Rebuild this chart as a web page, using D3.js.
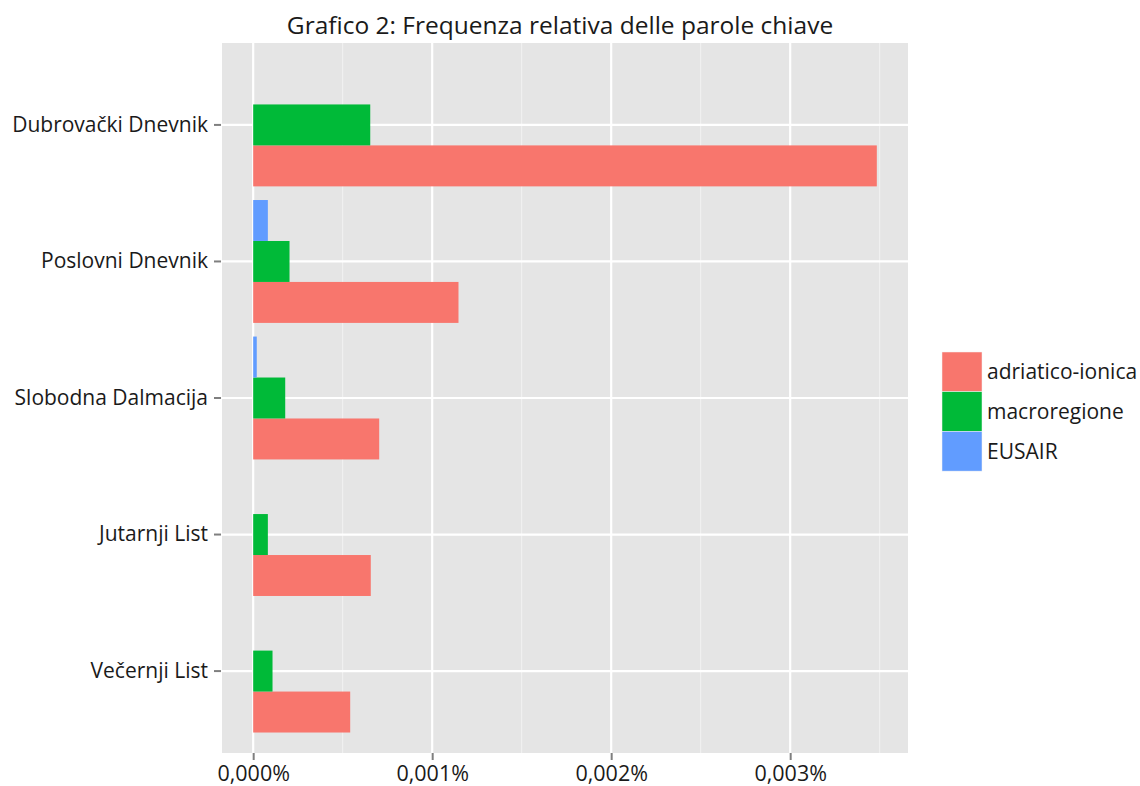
<!DOCTYPE html>
<html>
<head>
<meta charset="utf-8">
<script src="https://cdn.jsdelivr.net/npm/d3@7"></script>
<style>
  body { margin: 0; background: #fff; }
  text { font-family: "Open Sans", "Noto Sans", sans-serif; fill: #1a1a1a; }
</style>
</head>
<body>
<svg id="chart" width="1140" height="786"></svg>
<script>
// ---- data ----
const categories = ["Dubrovački Dnevnik", "Poslovni Dnevnik", "Slobodna Dalmacija", "Jutarnji List", "Večernji List"];
const seriesNames = ["adriatico-ionica", "macroregione", "EUSAIR"];
const adriaticoIonica = [0.003484, 0.001147, 0.000704, 0.000657, 0.000542];
const macroregione   = [0.000654, 0.000203, 0.000179, 0.000082, 0.000108];
const eusair         = [0.000000, 0.000082, 0.000020, 0.000000, 0.000000];
const xTicks = [0, 0.001, 0.002, 0.003];
const xTickLabels = ["0,000%", "0,001%", "0,002%", "0,003%"];
const xMinor = [0.0005, 0.0015, 0.0025, 0.0035];
const colors = ["#F8766D", "#00BA38", "#619CFF"];
const title = "Grafico 2: Frequenza relativa delle parole chiave";

const seriesValues = [adriaticoIonica, macroregione, eusair];
const rows = [];
categories.forEach((c, i) => seriesNames.forEach((s, j) => rows.push({cat: c, series: s, value: seriesValues[j][i]})));

// ---- layout ----
const svg = d3.select("#chart");
const panel = {x0: 222, x1: 908, y0: 43, y1: 753};

const maxV = d3.max(rows, d => d.value);
const pad = maxV * 0.05;
const x = d3.scaleLinear().domain([-pad, maxV + pad]).range([panel.x0, panel.x1]);
const y = d3.scaleBand().domain(categories).range([panel.y0, panel.y1]).paddingInner(0).paddingOuter(0.1);
const inner = d3.scaleBand().domain(seriesNames.slice().reverse()).range([0, y.step() * 0.9]);
const color = d3.scaleOrdinal().domain(seriesNames).range(colors);

// panel background
svg.append("rect").attr("x", panel.x0).attr("y", panel.y0)
  .attr("width", panel.x1 - panel.x0).attr("height", panel.y1 - panel.y0)
  .attr("fill", "#E5E5E5");

// minor grid
svg.append("g").selectAll("line").data(xMinor.filter(v => x(v) < panel.x1)).join("line")
  .attr("x1", d => x(d)).attr("x2", d => x(d)).attr("y1", panel.y0).attr("y2", panel.y1)
  .attr("stroke", "#F2F2F2").attr("stroke-width", 1);
// major grid
svg.append("g").selectAll("line").data(xTicks).join("line")
  .attr("x1", d => x(d)).attr("x2", d => x(d)).attr("y1", panel.y0).attr("y2", panel.y1)
  .attr("stroke", "#fff").attr("stroke-width", 2.2);
svg.append("g").selectAll("line").data(categories).join("line")
  .attr("x1", panel.x0).attr("x2", panel.x1)
  .attr("y1", d => y(d) + y.bandwidth() / 2).attr("y2", d => y(d) + y.bandwidth() / 2)
  .attr("stroke", "#fff").attr("stroke-width", 2.2);

// bars
svg.append("g").selectAll("rect").data(rows).join("rect")
  .attr("x", d => x(Math.min(0, d.value)))
  .attr("width", d => Math.abs(x(d.value) - x(0)))
  .attr("y", d => y(d.cat) + y.bandwidth() / 2 - y.step() * 0.45 + inner(d.series))
  .attr("height", inner.bandwidth())
  .attr("fill", d => color(d.series));

// x axis
const xAxis = d3.axisBottom(x).tickValues(xTicks).tickFormat((d, i) => xTickLabels[i]).tickSize(7).tickPadding(2);
const gx = svg.append("g").attr("transform", `translate(0,${panel.y1})`).call(xAxis);
gx.select(".domain").remove();
gx.selectAll(".tick line").attr("stroke", "#7f7f7f").attr("stroke-width", 2);
gx.selectAll(".tick text").attr("font-size", 21.5).attr("dy", "0.9em")
  .style("font-family", "'Open Sans', sans-serif").attr("fill", "#1a1a1a");

// y axis
const yAxis = d3.axisLeft(y).tickSize(7).tickPadding(6);
const gy = svg.append("g").attr("transform", `translate(${panel.x0 - 1},0)`).call(yAxis);
gy.select(".domain").remove();
gy.selectAll(".tick line").attr("stroke", "#7f7f7f").attr("stroke-width", 2);
gy.selectAll(".tick text").attr("font-size", 21)
  .style("font-family", "'Open Sans', sans-serif").attr("fill", "#1a1a1a");

// title
svg.append("text").attr("x", (panel.x0 + panel.x1) / 2 - 5).attr("y", 34)
  .attr("text-anchor", "middle").attr("font-size", 24.5).text(title);

// legend
const lg = svg.append("g").attr("transform", "translate(942,352)");
seriesNames.forEach((s, i) => {
  lg.append("rect").attr("x", 0).attr("y", i * 39.7).attr("width", 40).attr("height", 39.7)
    .attr("fill", color(s)).attr("stroke", "#F2F2F2").attr("stroke-width", 0.5);
  lg.append("text").attr("x", 45).attr("y", i * 39.7 + 20).attr("dy", "0.35em")
    .attr("font-size", 21).text(s);
});
</script>
</body>
</html>
